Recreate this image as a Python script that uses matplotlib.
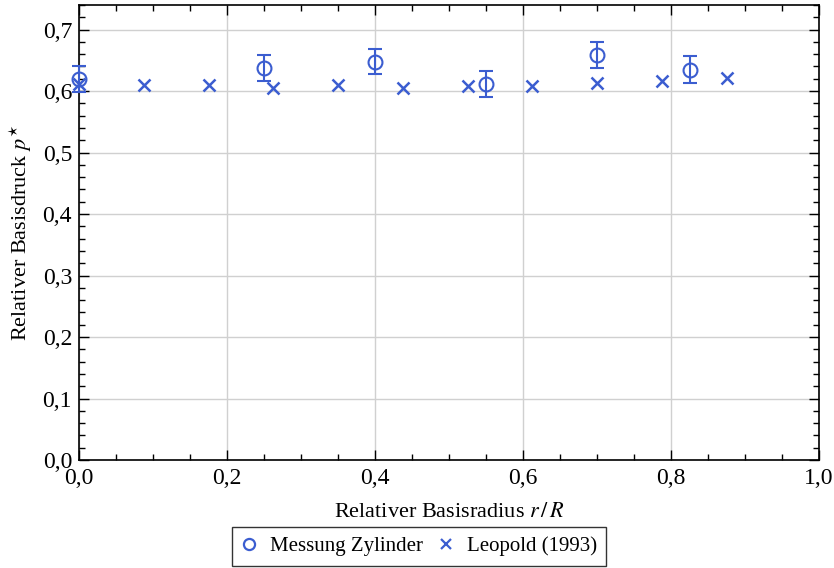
import matplotlib
matplotlib.use("Agg")
import matplotlib.pyplot as plt
from matplotlib.lines import Line2D
from matplotlib.ticker import MultipleLocator, FuncFormatter

# Data
mess_x = [0.0, 0.25, 0.4, 0.55, 0.7, 0.825]
mess_y = [0.620, 0.638, 0.648, 0.611, 0.659, 0.635]
mess_err = [0.021, 0.021, 0.021, 0.021, 0.021, 0.022]

leo_x = [0.0, 0.0875, 0.175, 0.2625, 0.35, 0.4375, 0.525, 0.6125, 0.7, 0.7875, 0.875]
leo_y = [0.611, 0.610, 0.610, 0.605, 0.610, 0.605, 0.609, 0.608, 0.613, 0.617, 0.622]

plt.rcParams['font.family'] = ['Liberation Serif', 'DejaVu Serif']
plt.rcParams['mathtext.fontset'] = 'stix'

color = '#3b5dd0'

fig = plt.figure(figsize=(8.34, 5.68), dpi=100)
ax = fig.add_axes([79/834, 1-460/568, 740/834, 455/568])

ax.errorbar(mess_x, mess_y, yerr=mess_err, fmt='o', mfc='none', mec=color,
            ecolor=color, color=color, ms=10, mew=1.5, elinewidth=1.5,
            capsize=5, capthick=1.5, zorder=3, clip_on=False)
ax.plot(leo_x, leo_y, 'x', color=color, ms=8, mew=1.8, linestyle='none',
        zorder=3, clip_on=False)

ax.set_xlim(0, 1.0)
ax.set_ylim(0, 0.74)
ax.xaxis.set_major_locator(MultipleLocator(0.2))
ax.xaxis.set_minor_locator(MultipleLocator(0.05))
ax.yaxis.set_major_locator(MultipleLocator(0.1))
ax.yaxis.set_minor_locator(MultipleLocator(0.02))
fmt = FuncFormatter(lambda v, p: f"{v:.1f}".replace('.', ','))
ax.xaxis.set_major_formatter(fmt)
ax.yaxis.set_major_formatter(fmt)
ax.tick_params(which='both', direction='in', top=True, right=True, labelsize=17)
ax.tick_params(which='major', length=7, width=1)
ax.tick_params(which='minor', length=4, width=1)
ax.tick_params(axis='x', pad=6)
ax.tick_params(axis='y', pad=5)
ax.grid(True, which='major', color='#d0d0d0', linewidth=1)
ax.set_axisbelow(True)
for s in ax.spines.values():
    s.set_linewidth(1.2)

ax.set_xlabel(r'Relativer Basisradius $r\,/\,R$', fontsize=16, labelpad=10)
ax.set_ylabel(r'Relativer Basisdruck $p^{\star}$', fontsize=16, labelpad=6)

handles = [
    Line2D([], [], marker='o', mfc='none', mec=color, ms=8, mew=1.6, linestyle='none'),
    Line2D([], [], marker='x', color=color, ms=7, mew=1.6, linestyle='none'),
]
leg = fig.legend(handles, ['Messung Zylinder', 'Leopold (1993)'],
                 loc='center', bbox_to_anchor=(419/834, 1-546.5/568), ncol=2,
                 frameon=True, fancybox=False, edgecolor='black', fontsize=15,
                 handletextpad=0.6, columnspacing=0.7, borderpad=0.45,
                 handlelength=0.8)
leg.get_frame().set_linewidth(1.0)

fig.savefig('out.png', dpi=100)
